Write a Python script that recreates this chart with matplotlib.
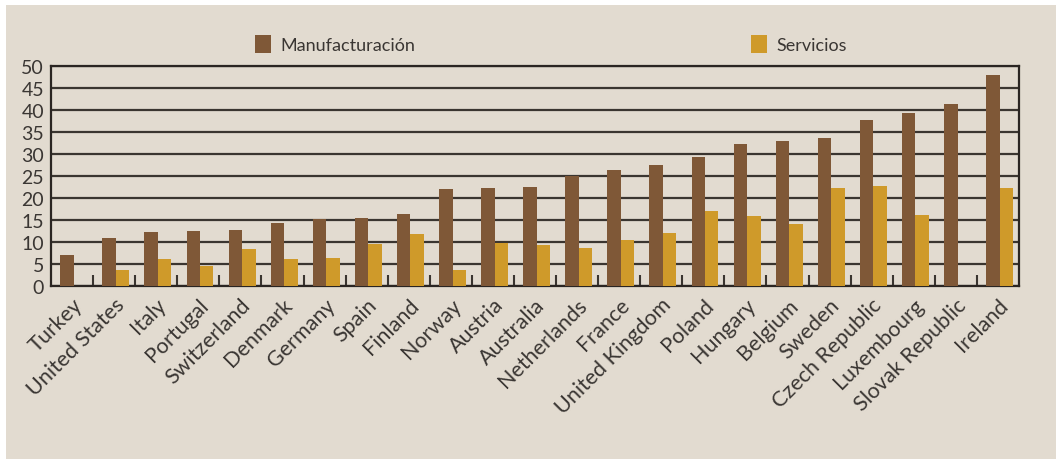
import matplotlib.pyplot as plt
import numpy as np
from matplotlib.patches import Rectangle

paises = ["Turkey", "United States", "Italy", "Portugal", "Switzerland", "Denmark",
          "Germany", "Spain", "Finland", "Norway", "Austria", "Australia",
          "Netherlands", "France", "United Kingdom", "Poland", "Hungary", "Belgium",
          "Sweden", "Czech Republic", "Luxembourg", "Slovak Republic", "Ireland"]
manufacturacion = [7.1, 11.0, 12.3, 12.6, 12.8, 14.4, 15.3, 15.5, 16.4, 22.1, 22.3,
                   22.6, 25.1, 26.4, 27.6, 29.4, 32.3, 33.0, 33.7, 37.8, 39.4, 41.4, 48.0]
servicios = [0, 3.7, 6.2, 4.6, 8.3, 6.2, 6.4, 9.6, 11.9, 3.7, 9.8, 9.4, 8.7, 10.5,
             12.1, 17.1, 16.0, 14.2, 22.3, 22.8, 16.2, 0, 22.3]

fondo = '#e2dbd0'
c_manu = '#7f5837'
c_serv = '#cf9a2a'
texto = '#3a3633'

plt.rcParams['font.family'] = ['Lato', 'DejaVu Sans']

fig = plt.figure(figsize=(10.58, 4.64), dpi=100, facecolor='white')
fig.patches.append(Rectangle((6 / 1058, 4 / 464), 1050 / 1058, 454 / 464,
                             transform=fig.transFigure, facecolor=fondo,
                             edgecolor='none', zorder=-1))

ax = fig.add_axes([51 / 1058, 1 - 287 / 464, 968 / 1058, 220 / 464])
ax.set_facecolor(fondo)

x = np.arange(len(paises))
w = 0.32
ax.bar(x - w / 2 + 0.04, manufacturacion, w, color=c_manu, label='Manufacturación', zorder=3)
ax.bar(x + w / 2 + 0.04, servicios, w, color=c_serv, label='Servicios', zorder=3)

ax.set_ylim(0, 50)
ax.set_xlim(-0.5, len(paises) - 0.5)
ax.set_yticks(range(0, 51, 5))
ax.yaxis.grid(True, color='#3a3530', linewidth=1.6, zorder=1)
ax.set_axisbelow(True)
ax.tick_params(axis='y', length=0, pad=5, labelsize=14, labelcolor=texto)

ax.set_xticks(x)
ax.set_xticklabels(paises, rotation=45, ha='right', rotation_mode='anchor',
                   fontsize=15.5, color=texto)
ax.tick_params(axis='x', which='major', length=0, pad=6)
ax.set_xticks(x[:-1] + 0.5, minor=True)
ax.tick_params(axis='x', which='minor', direction='in', length=8, width=1.5,
               color='#3a3530')

for s in ax.spines.values():
    s.set_color('#2a2522')
    s.set_linewidth(1.6)

fig.legend(loc='center', bbox_to_anchor=(551 / 1058, 1 - 45 / 464), ncol=2,
           frameon=False, fontsize=13, handlelength=0.9, handleheight=1.2,
           handletextpad=0.5, columnspacing=18.6, labelcolor=texto)

fig.savefig('out.png', dpi=100, facecolor='white')
